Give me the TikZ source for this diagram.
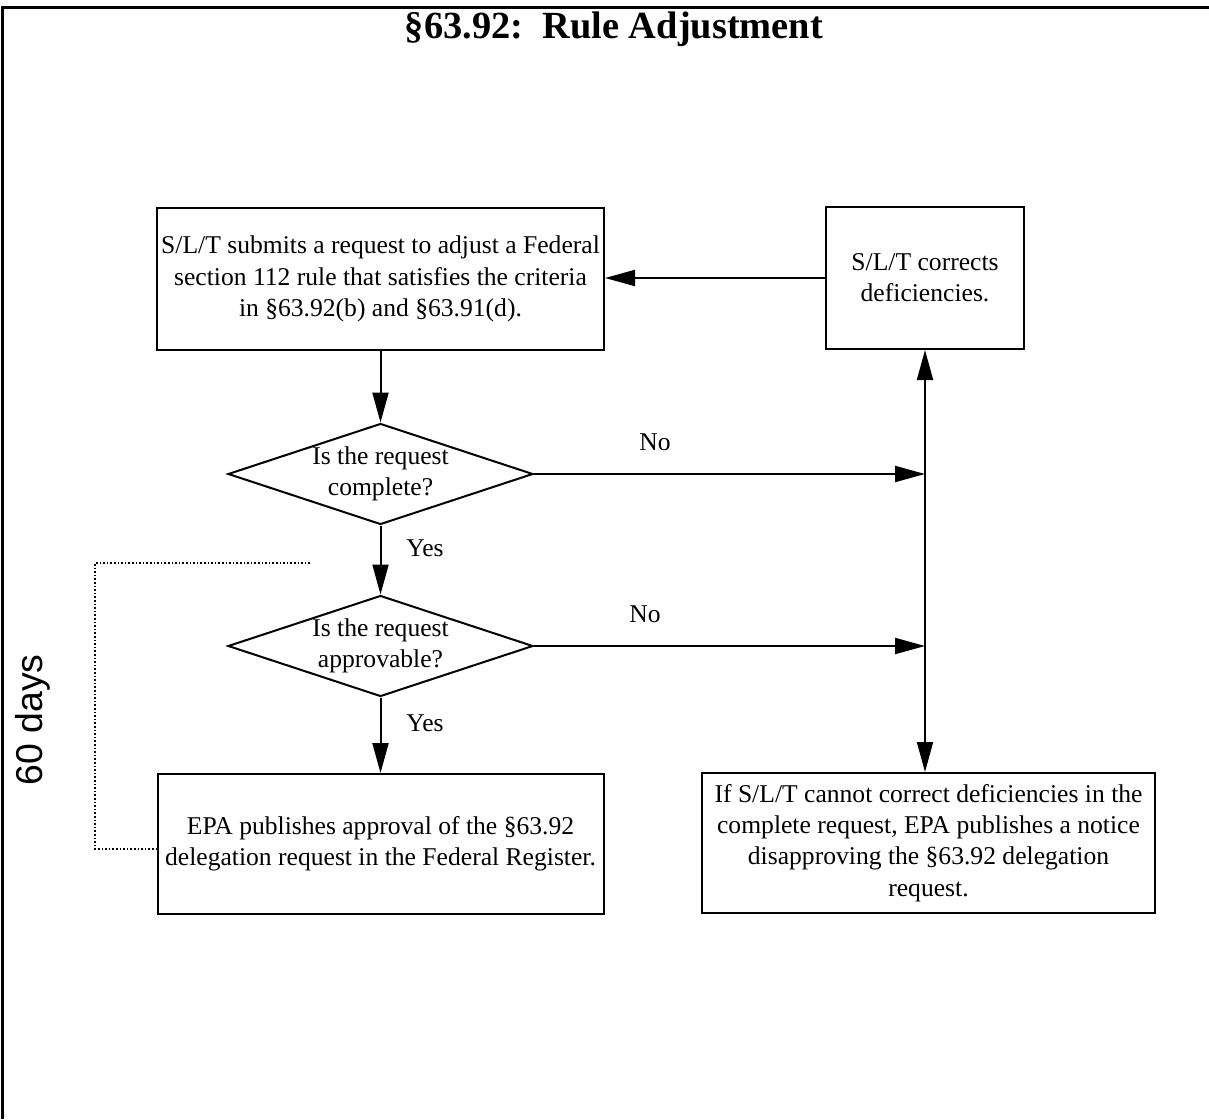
\documentclass[tikz,border=0pt]{standalone}
\usepackage{fontspec}
\setmainfont{Liberation Serif}
\setsansfont{Liberation Sans}
\usetikzlibrary{shapes.geometric,arrows.meta}
\newcommand{\bodyfont}{\fontsize{12.8}{15.6}\selectfont}
\tikzset{
    stepbox/.style={draw, line width=1pt, align=center, inner sep=0pt, font=\bodyfont},
    query/.style={draw, diamond, aspect=3, line width=1pt, align=center, inner sep=0pt,
                  minimum width=152.5pt, minimum height=50.5pt, font=\bodyfont},
    answer/.style={font=\bodyfont},
    flow/.style={line width=1pt, -{Triangle[length=15pt,width=8pt]}},
    flowboth/.style={line width=1pt, {Triangle[length=15pt,width=8pt]}-{Triangle[length=15pt,width=8pt]}},
    window/.style={line width=0.8pt, densely dotted}
}
\begin{document}
\begin{tikzpicture}[x=0.5pt, y=-0.5pt]
                    \useasboundingbox (0,0) rectangle (1209,1119);
                    % page frame
                    \draw[line width=1.5pt] (2,1119) -- (2,7) -- (1209,7);
                    \node[font=\fontsize{19.2}{22}\selectfont\bfseries, anchor=base] (title) at (614,38) {§63.92:\ \ Rule Adjustment};

                    % boxes
                    \node[stepbox, minimum width=223.5pt, minimum height=71pt] (submit) at (380.5,279)
                        {S/L/T submits a request to adjust a Federal\\ section 112 rule that satisfies the criteria\\ in §63.92(b) and §63.91(d).};
                    \node[stepbox, minimum width=99pt, minimum height=71pt] (correct) at (925,278)
                        {S/L/T corrects\\ deficiencies.};
                    \node[query] (complete) at (380.5,474) {Is the request\\ complete?};
                    \node[query] (approvable) at (380.5,646) {Is the request\\ approvable?};
                    \node[stepbox, minimum width=223pt, minimum height=70pt] (approve) at (380.5,844)
                        {EPA publishes approval of the §63.92\\ delegation request in the Federal Register.};
                    \node[stepbox, minimum width=226.5pt, minimum height=70pt] (disapprove) at (928.5,843)
                        {If S/L/T cannot correct deficiencies in the\\ complete request, EPA publishes a notice\\ disapproving the §63.92 delegation\\ request.};

                    % arrows
                    \coordinate (joinA) at (925,474);
                    \coordinate (joinB) at (925,646);
                    \draw[flow] (submit) -- (complete);
                    \draw[flow] (complete) -- (approvable);
                    \draw[flow] (approvable) -- (approve);
                    \draw[flow] (correct.west) -- (correct.west -| submit.east);
                    \draw[flowboth] (correct) -- (correct |- disapprove.north);
                    \draw[flow] (complete.east) -- (joinA);
                    \draw[flow] (approvable.east) -- (joinB);

                    \node[answer] (noA) at (655,442) {No};
                    \node[answer] (noB) at (645,614) {No};
                    \node[answer] (yesA) at (425,548) {Yes};
                    \node[answer] (yesB) at (425,723) {Yes};

                    % 60 day window
                    \coordinate (winTop) at (310,563);
                    \draw[window] (winTop) -- (95,563) -- (95,849) -- (approve.west |- 0,849);
                    \node[font=\fontsize{18.7}{21}\sffamily, rotate=90, anchor=base] (days) at (42,720) {60 days};
                \end{tikzpicture}
\end{document}
